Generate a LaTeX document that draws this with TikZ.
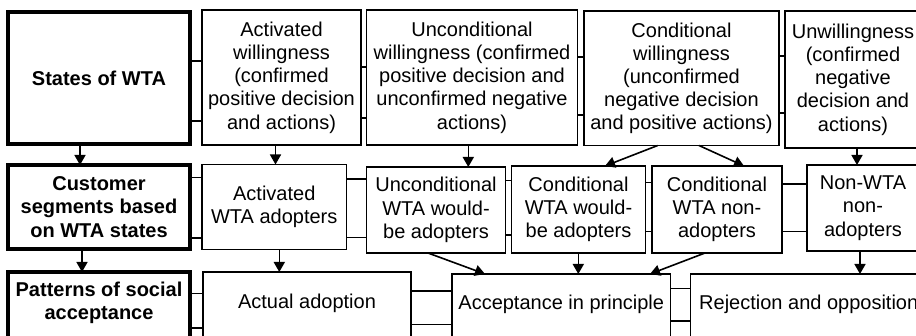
\documentclass[tikz,border=0pt]{standalone}
\usepackage{fontspec}
\setmainfont{Liberation Sans}
\usetikzlibrary{arrows.meta}
\tikzset{
  bx/.style={draw, line width=1.8pt, inner sep=0pt, outer sep=0pt, align=center,
    font=\fontsize{20}{23.2}\selectfont},
  bxthick/.style={bx, line width=3.5pt, font=\fontsize{20}{23.2}\selectfont\bfseries},
  openbx/.style={bx, draw=none},
  openbxthick/.style={bxthick, draw=none},
  conn/.style={line width=1.3pt},
  arr/.style={line width=1.6pt, -{Triangle[length=10pt,width=11pt]}},
}
\begin{document}
\begin{tikzpicture}[x=1pt,y=-1pt]
\useasboundingbox (0,0) rectangle (916,336);
\fill[white] (0,0) rectangle (916,336);
\clip (0,0) rectangle (916,336);

% row 1
\node[bxthick, minimum width=182pt, minimum height=132pt] (s1) at (99,78) {States of WTA};
\node[bx, minimum width=159pt, minimum height=135pt] (a1) at (281.5,77.5) {Activated\\willingness\\(confirmed\\positive decision\\and actions)};
\node[bx, minimum width=211pt, minimum height=135pt] (u1) at (472,77.5) {Unconditional\\willingness (confirmed\\positive decision and\\unconfirmed negative\\actions)};
\node[bx, minimum width=195pt, minimum height=134.5pt] (c1) at (681.5,78.25) {Conditional\\willingness\\(unconfirmed\\negative decision\\and positive actions)};
\node[bx, minimum width=136pt, minimum height=137pt] (w1) at (853,79.5) {Unwillingness\\(confirmed\\negative\\decision and\\actions)};

% row 2
\node[bxthick, minimum width=182pt, minimum height=84pt] (s2) at (99,207) {Customer\\segments based\\on WTA states};
\node[bx, minimum width=144.5pt, minimum height=85pt] (a2) at (274.25,207) {Activated\\WTA adopters};
\node[bx, minimum width=139pt, minimum height=86pt] (u2) at (436,210) {Unconditional\\WTA would-\\be adopters};
\node[bx, minimum width=134pt, minimum height=87pt] (cw2) at (578.5,209.5) {Conditional\\WTA would-\\be adopters};
\node[bx, minimum width=130pt, minimum height=87pt] (cn2) at (717,209.5) {Conditional\\WTA non-\\adopters};
\node[bx, minimum width=112pt, minimum height=86pt] (n2) at (863,208) {Non-WTA\\non-\\adopters};

% row 3 (boxes open at the bottom, cut by the picture edge)
\node[openbxthick, minimum width=182pt, minimum height=62pt] (s3) at (99,303) {Patterns of social\\acceptance};
\node[openbx, minimum width=208pt, minimum height=62pt] (p1) at (307,303) {Actual adoption};
\node[openbx, minimum width=218.5pt, minimum height=60pt] (p2) at (561.25,304) {Acceptance in principle};
\node[openbx, minimum width=236.5pt, minimum height=60pt] (p3) at (808.75,304) {Rejection and opposition};
\draw[line width=3.5pt] ([yshift=-30pt]s3.south west) -- (s3.north west) -- (s3.north east) -- ([yshift=-30pt]s3.south east);
\foreach \n in {p1,p2,p3}
  \draw[line width=1.8pt] ([yshift=-30pt]\n.south west) -- (\n.north west) -- (\n.north east) -- ([yshift=-30pt]\n.south east);

% horizontal connector pairs, row 1
\draw[conn] (s1.east |- 0,61) -- (a1.west |- 0,61);
\draw[conn] (s1.east |- 0,121) -- (a1.west |- 0,121);
\draw[conn] (a1.east |- 0,67) -- (u1.west |- 0,67);
\draw[conn] (a1.east |- 0,118) -- (u1.west |- 0,118);
\draw[conn] (u1.east |- 0,57) -- (c1.west |- 0,57);
\draw[conn] (u1.east |- 0,115) -- (c1.west |- 0,115);
\draw[conn] (c1.east |- 0,56) -- (w1.west |- 0,56);
\draw[conn] (c1.east |- 0,113) -- (w1.west |- 0,113);

% row 2
\draw[conn] (s2.east |- 0,177.5) -- (a2.west |- 0,177.5);
\draw[conn] (s2.east |- 0,238) -- (a2.west |- 0,238);
\draw[conn] (a2.east |- 0,179) -- (u2.west |- 0,179);
\draw[conn] (a2.east |- 0,237.5) -- (u2.west |- 0,237.5);
\draw[conn] (u2.east |- 0,180.5) -- (cw2.west |- 0,180.5);
\draw[conn] (u2.east |- 0,235) -- (cw2.west |- 0,235);
\draw[conn] (cw2.east |- 0,182.5) -- (cn2.west |- 0,182.5);
\draw[conn] (cw2.east |- 0,231.5) -- (cn2.west |- 0,231.5);
\draw[conn] (cn2.east |- 0,184) -- (n2.west |- 0,184);
\draw[conn] (cn2.east |- 0,231.5) -- (n2.west |- 0,231.5);

% row 3
\draw[conn] (s3.east |- 0,293.5) -- (p1.west |- 0,293.5);
\draw[conn] (s3.east |- 0,328) -- (p1.west |- 0,328);
\draw[conn] (p1.east |- 0,291) -- (p2.west |- 0,291);
\draw[conn] (p1.east |- 0,324.5) -- (p2.west |- 0,324.5);
\draw[conn] (p2.east |- 0,288.5) -- (p3.west |- 0,288.5);
\draw[conn] (p2.east |- 0,321) -- (p3.west |- 0,321);

% arrows
\draw[arr] (s1.south -| 80,0) -- (s2.north -| 80,0);
\draw[arr] (s2.south -| 82,0) -- (s3.north -| 82,0);
\draw[arr] (a1.south -| 275.5,0) -- (a2.north -| 275.5,0);
\draw[arr] (a2.south -| 279.3,0) -- (p1.north -| 279.3,0);
\draw[arr] (u1.south -| 468.3,0) -- (u2.north -| 468.3,0);
\draw[arr] (c1.south -| 657.7,0) -- (cw2.north -| 605,0);
\draw[arr] (c1.south -| 699,0) -- (cn2.north -| 744,0);
\draw[arr] (w1.south -| 857,0) -- (n2.north -| 857,0);
\draw[arr] (u2.south -| 428,0) -- (p2.north -| 485,0);
\draw[arr] (cw2.south -| 578.3,0) -- (p2.north -| 578.3,0);
\draw[arr] (cn2.south -| 705,0) -- (p2.north -| 650,0);
\draw[arr] (n2.south -| 860,0) -- (p3.north -| 860,0);
\end{tikzpicture}
\end{document}
